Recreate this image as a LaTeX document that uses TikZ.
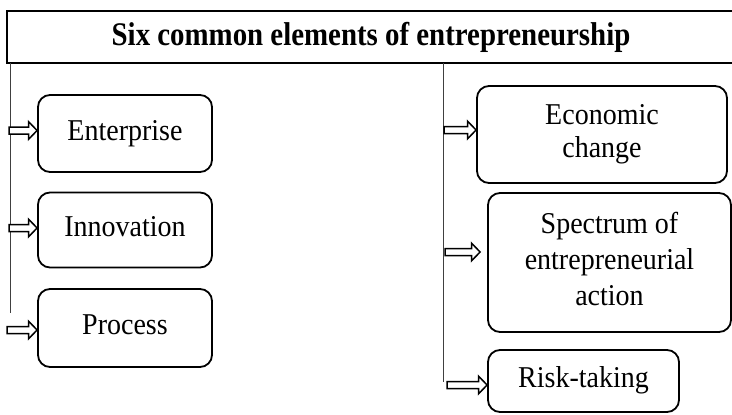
\documentclass[tikz,border=0pt]{standalone}
\usepackage{fontspec}
\usepackage{graphicx}
\setmainfont{Liberation Serif}
\usetikzlibrary{calc}
\newcommand\tallt[1]{\scalebox{1}[1.08]{\begin{tabular}{@{}c@{}}#1\end{tabular}}}
\newcommand\blockarr[2]{%
  \draw[barrow] ($(#1)+(0,-3.5)$) -- ($(#2)+(-8.5,-3.5)$) -- ($(#2)+(-8.5,-8.8)$)
    -- (#2) -- ($(#2)+(-8.5,8.8)$) -- ($(#2)+(-8.5,3.5)$) -- ($(#1)+(0,3.5)$) -- cycle;}
\begin{document}
\begin{tikzpicture}[x=1pt,y=-1pt,
  elem/.style={draw,rounded corners=12pt,line width=1.8pt,align=center,
    font=\fontsize{28}{31}\selectfont,inner sep=0pt},
  spine/.style={draw=black!75,line width=1pt},
  barrow/.style={draw,line width=1.5pt,line join=miter,fill=white}]
\useasboundingbox (0,0) rectangle (732,415);
\node[draw,line width=2.2pt,minimum width=728pt,minimum height=52pt,inner sep=0pt,
  font=\bfseries\fontsize{33}{36}\selectfont] (title) at (371,37)
  {\scalebox{0.875}[1]{Six common elements of entrepreneurship}};
% spines
\coordinate (L0) at (10,63);
\coordinate (L1) at (10,313);
\coordinate (R0) at (443,63);
\coordinate (R1) at (443,382);
\draw[spine] (L0) -- (L1);
\draw[spine] (R0) -- (R1);
% left boxes
\node[elem,minimum width=174pt,minimum height=77pt] (ent) at (125,133.5) {\tallt{Enterprise}};
\node[elem,minimum width=174pt,minimum height=75pt] (inn) at (125,230) {\tallt{Innovation}};
\node[elem,minimum width=174pt,minimum height=78pt] (pro) at (125,328) {\tallt{Process}};
% right boxes
\node[elem,minimum width=250pt,minimum height=97pt] (eco) at (602,134.5) {\tallt{Economic\\change}};
\node[elem,minimum width=243pt,minimum height=139pt,font=\fontsize{28}{33}\selectfont] (spe) at (609.5,262.5) {\tallt{Spectrum of\\entrepreneurial\\action}};
\node[elem,minimum width=191pt,minimum height=62pt] (ris) at (583.5,381) {\tallt{Risk-taking}};
% arrows
\coordinate (a1) at (9,130.5);
\coordinate (a2) at (9,228);
\coordinate (a3) at (7,330);
\coordinate (a4) at (444,130);
\coordinate (a5) at (445,252);
\coordinate (a6) at (447,385);
\coordinate (e1) at (a1 -| ent.west);
\coordinate (e2) at (a2 -| inn.west);
\coordinate (e3) at (a3 -| pro.west);
\coordinate (e4) at (a4 -| eco.west);
\coordinate (e5) at ([xshift=-7pt]a5 -| spe.west);
\coordinate (e6) at (a6 -| ris.west);
\blockarr{a1}{e1}
\blockarr{a2}{e2}
\blockarr{a3}{e3}
\blockarr{a4}{e4}
\blockarr{a5}{e5}
\blockarr{a6}{e6}
\end{tikzpicture}
\end{document}
